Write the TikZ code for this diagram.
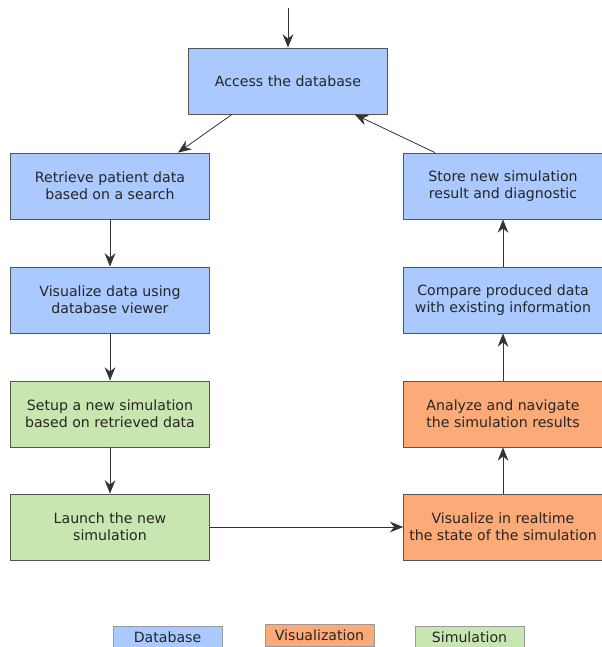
\documentclass[tikz,border=0pt]{standalone}
\usepackage{fontspec}
\setmainfont{DejaVu Sans}
\usetikzlibrary{arrows.meta}

\definecolor{dbblue}{RGB}{169,201,255}
\definecolor{visorange}{RGB}{252,170,120}
\definecolor{simgreen}{RGB}{200,230,176}
\definecolor{edgegray}{RGB}{85,85,85}

\begin{document}
\begin{tikzpicture}[x=0.75pt,y=-0.75pt,
  box/.style={draw=edgegray, semithick, minimum width=149pt, minimum height=49.5pt,
    inner sep=1pt, align=center, text=black!85, font=\fontsize{10.6}{12.6}\selectfont},
  dbbox/.style={box, fill=dbblue},
  visbox/.style={box, fill=visorange},
  simbox/.style={box, fill=simgreen},
  keybox/.style={draw=edgegray!60, thin, minimum width=81.5pt, minimum height=16.5pt,
    inner sep=1pt, text=black!85, font=\fontsize{10.6}{12.6}\selectfont},
  flow/.style={-{Stealth[length=10pt,width=8pt]}, semithick, black!80}]
\useasboundingbox (0,0) rectangle (602,647);
\node[dbbox] (access) at (288,81) {Access the database};
\node[dbbox] (retrieve) at (110,186) {Retrieve patient data\\based on a search};
\node[dbbox] (viewer) at (110,300) {Visualize data using\\database viewer};
\node[simbox] (setup) at (110,414) {Setup a new simulation\\based on retrieved data};
\node[simbox] (launch) at (110,527) {Launch the new\\simulation};
\node[dbbox] (store) at (503,186) {Store new simulation\\result and diagnostic};
\node[dbbox] (compare) at (503,300) {Compare produced data\\with existing information};
\node[visbox] (analyze) at (503,414) {Analyze and navigate\\the simulation results};
\node[visbox] (realtime) at (503,527) {Visualize in realtime\\the state of the simulation};
\coordinate (start) at (288,8);
% legend
\node[keybox, fill=dbblue] (keydb) at (167.5,637) {Database};
\node[keybox, fill=visorange] (keyvis) at (319.5,635) {Visualization};
\node[keybox, fill=simgreen] (keysim) at (469.5,637) {Simulation};
% arrows
\draw[flow] (start) -- (access);
\draw[flow] ([xshift=-42pt]access.south) -- ([xshift=51pt]retrieve.north);
\draw[flow] (retrieve) -- (viewer);
\draw[flow] (viewer) -- (setup);
\draw[flow] (setup) -- (launch);
\draw[flow] (launch) -- (realtime);
\draw[flow] (realtime) -- (analyze);
\draw[flow] (analyze) -- (compare);
\draw[flow] (compare) -- (store);
\draw[flow] ([xshift=-51pt]store.north) -- ([xshift=50pt]access.south);
\end{tikzpicture}
\end{document}
